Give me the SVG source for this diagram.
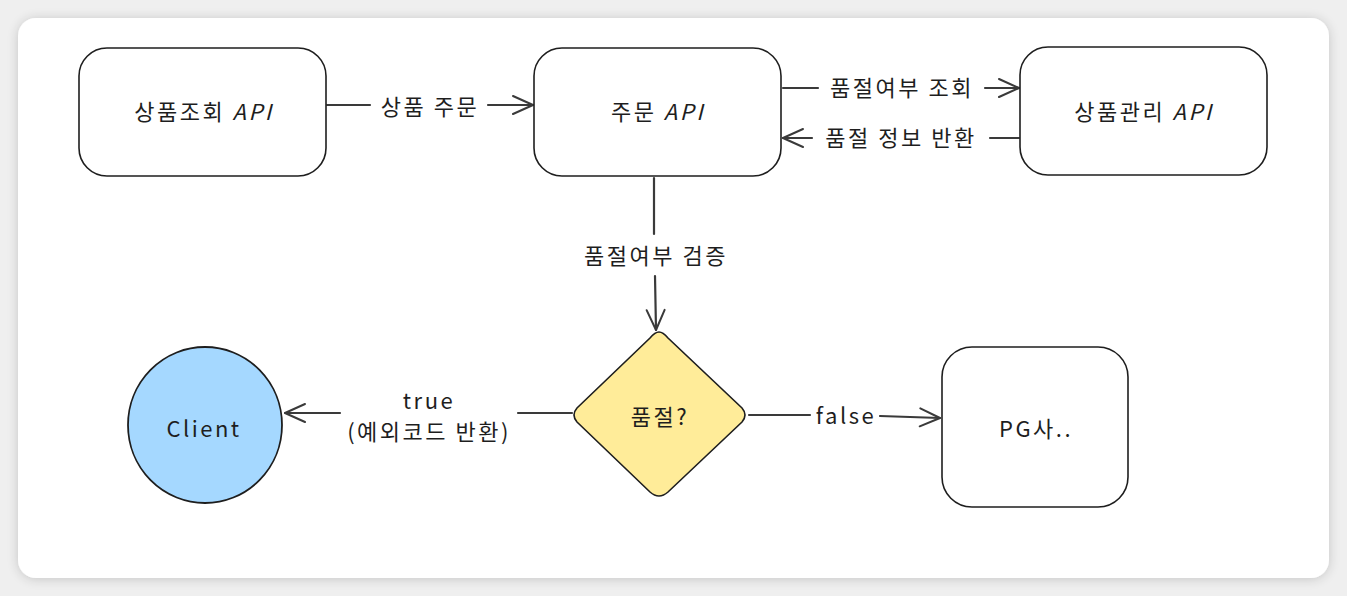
<svg xmlns="http://www.w3.org/2000/svg" width="1347" height="596" viewBox="0 0 1347 596">
<defs>
<filter id="sh" x="-5%" y="-5%" width="110%" height="110%">
<feGaussianBlur in="SourceAlpha" stdDeviation="6"/>
<feOffset dx="0" dy="1"/>
<feComponentTransfer><feFuncA type="linear" slope="0.18"/></feComponentTransfer>
<feMerge><feMergeNode/><feMergeNode in="SourceGraphic"/></feMerge>
</filter>
<marker id="ah" viewBox="0 0 24 24" refX="22" refY="12" markerWidth="24" markerHeight="24" markerUnits="userSpaceOnUse" orient="auto">
<path d="M2,3 L22,12 L2,21" fill="none" stroke="#3a3a3a" stroke-width="2" stroke-linecap="round" stroke-linejoin="round"/>
</marker>
</defs>
<style>
.box{fill:#ffffff;stroke:#1e1e1e;stroke-width:1.6}
.t{font-family:"Noto Sans CJK KR","Noto Sans",sans-serif;font-size:22px;letter-spacing:2.5px;fill:#1e1e1e;text-anchor:middle;dominant-baseline:central}
.c{fill:none;stroke:#3a3a3a;stroke-width:2.2;stroke-linecap:round}
</style>
<rect x="0" y="0" width="1347" height="596" fill="#efefef"/>
<rect x="18" y="18" width="1311" height="560" rx="18" fill="#ffffff" filter="url(#sh)"/>

<g id="connectors">
<line class="c" x1="327" y1="105" x2="370" y2="105"/>
<line class="c" x1="488" y1="105" x2="533" y2="105" marker-end="url(#ah)"/>
<text class="t" x="430" y="105">상품 주문</text>

<line class="c" x1="783" y1="88" x2="818" y2="88"/>
<line class="c" x1="985" y1="88" x2="1019" y2="88" marker-end="url(#ah)"/>
<text class="t" x="902" y="86">품절여부 조회</text>

<line class="c" x1="1019" y1="138" x2="990" y2="138"/>
<line class="c" x1="812" y1="138" x2="783" y2="138" marker-end="url(#ah)"/>
<text class="t" x="901" y="136">품절 정보 반환</text>

<line class="c" x1="654" y1="178" x2="654" y2="234"/>
<line class="c" x1="655" y1="276" x2="656" y2="330" marker-end="url(#ah)"/>
<text class="t" x="656" y="254">품절여부 검증</text>

<line class="c" x1="572" y1="413" x2="518" y2="413"/>
<line class="c" x1="340" y1="413" x2="285" y2="413" marker-end="url(#ah)"/>
<text class="t" x="429" y="399">true</text>
<text class="t" x="429" y="430">(예외코드 반환)</text>

<line class="c" x1="749" y1="415" x2="810" y2="415"/>
<line class="c" x1="880" y1="416" x2="940" y2="418" marker-end="url(#ah)"/>
<text class="t" x="846" y="414">false</text>
</g>

<g id="node-product-query">
<rect class="box" x="79" y="48" width="247" height="128" rx="28"/>
<text class="t" x="204" y="110">상품조회 <tspan font-style="italic">API</tspan></text>
</g>
<g id="node-order">
<rect class="box" x="534" y="48" width="247" height="128" rx="28"/>
<text class="t" x="658" y="110">주문 <tspan font-style="italic">API</tspan></text>
</g>
<g id="node-product-manage">
<rect class="box" x="1020" y="47" width="247" height="128" rx="28"/>
<text class="t" x="1144" y="110">상품관리 <tspan font-style="italic">API</tspan></text>
</g>
<g id="node-soldout">
<path d="M659,332 Q663,332 668,338 L742,408 Q748,415 742,422 L668,492 Q659,500 650,492 L577,422 Q571,415 577,408 L650,338 Q655,332 659,332 Z" fill="#ffec99" stroke="#1e1e1e" stroke-width="1.6"/>
<text class="t" x="660" y="415">품절?</text>
</g>
<g id="node-client">
<ellipse cx="205" cy="425" rx="77" ry="78" fill="#a5d8ff" stroke="#1e1e1e" stroke-width="1.8"/>
<text class="t" x="204" y="427">Client</text>
</g>
<g id="node-pg">
<rect class="box" x="942" y="347" width="186" height="160" rx="30"/>
<text class="t" x="1036" y="427">PG사..</text>
</g>
</svg>
